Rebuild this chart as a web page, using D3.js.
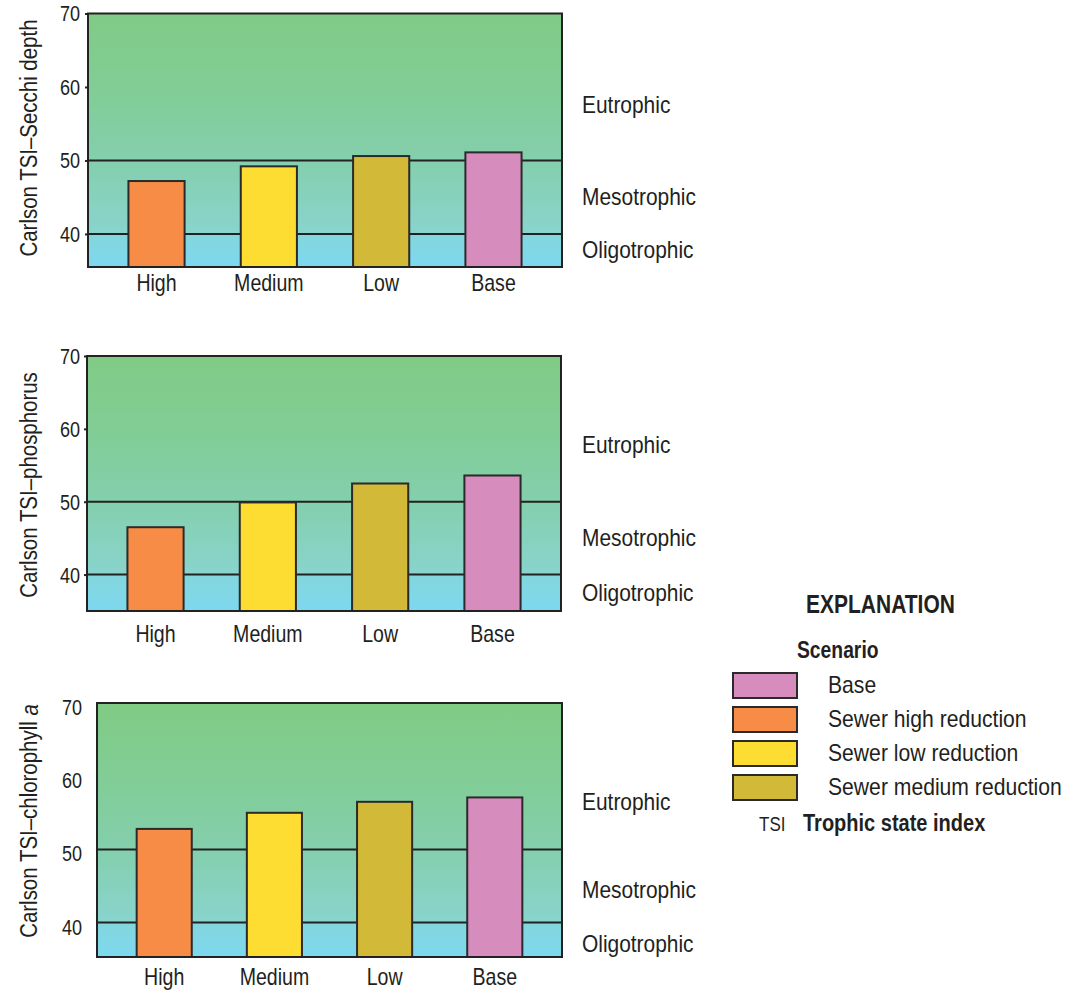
<!DOCTYPE html>
<html><head><meta charset="utf-8">
<script src="https://cdn.jsdelivr.net/npm/d3@7"></script>
<style>
body{margin:0;background:#fff;}
svg{display:block;}
text{font-family:"Liberation Sans",Arial,sans-serif;fill:#231f20;}
</style></head><body>
<svg id="chart" width="1072" height="990"></svg>
<script>
// ---- data ----
const categories = ["High", "Medium", "Low", "Base"];
const secchiValues = [47.2, 49.2, 50.6, 51.1];
const phosphorusValues = [46.5, 49.9, 52.5, 53.6];
const chlorophyllValues = [52.8, 55.0, 56.5, 57.1];
const yTicks = [40, 50, 60, 70];
const boundaries = [40, 50];
const zoneLabels = ["Eutrophic", "Mesotrophic", "Oligotrophic"];
const barColors = ["#f68c45", "#fedd33", "#d2b937", "#d68cbc"];
const legendLabels = ["Base", "Sewer high reduction", "Sewer low reduction", "Sewer medium reduction"];
const legendColors = ["#d68cbc", "#f68c45", "#fedd33", "#d2b937"];

// ---- layout ----
const panels = [
  {title: "Carlson TSI\u2013Secchi depth", italic: null, values: secchiValues,
   left: 88, right: 562, top: 13.5, bottom: 267, yMin: 35.5, labelRight: 80, tick: 3, xlab: 24, eutro: 55, titleY: 138, extra: 0},
  {title: "Carlson TSI\u2013phosphorus", italic: null, values: phosphorusValues,
   left: 87, right: 561, top: 356, bottom: 611, yMin: 35, labelRight: 80, tick: 3, xlab: 31, eutro: 57, titleY: 485, extra: 0},
  {title: "Carlson TSI\u2013chlorophyll ", italic: "a", values: chlorophyllValues,
   left: 97, right: 562, top: 703, bottom: 957, yMin: 35.3, labelRight: 82, tick: 0, xlab: 28, eutro: 47, titleY: 821, extra: 4}
];

const svg = d3.select("#chart");
const defs = svg.append("defs");

// condensed text helper: horizontal squeeze of a larger font
function ctext(parent, x, y, str, size, sx, opts = {}) {
  const t = parent.append("text")
    .attr("transform", `translate(${x},${y})${opts.rotate ? " rotate(" + opts.rotate + ")" : ""} scale(${sx},1)`)
    .attr("font-size", size).text(str);
  if (opts.bold) t.attr("font-weight", "bold");
  if (opts.anchor) t.attr("text-anchor", opts.anchor);
  if (opts.central) t.attr("dominant-baseline", "central");
  return t;
}

panels.forEach((p, pi) => {
  const g = svg.append("g");
  const y = d3.scaleLinear().domain([p.yMin, 70]).range([p.bottom, p.top]);
  const x = d3.scaleBand().domain(categories).range([p.left, p.right]).paddingInner(0.5).paddingOuter(0.36);

  const gid = "bg" + pi;
  const grad = defs.append("linearGradient").attr("id", gid).attr("gradientUnits", "userSpaceOnUse")
    .attr("x1", 0).attr("x2", 0).attr("y1", p.top).attr("y2", p.bottom);
  const H = p.bottom - p.top;
  [[p.top, "#80cb85"], [y(60), "#81cd95"], [y(50), "#84cfad"], [y(40) - 1, "#89d4cd"], [y(40) + 1, "#83d6dd"], [p.bottom, "#7dd8ef"]]
    .forEach(([yy, c]) => grad.append("stop").attr("offset", (yy - p.top) / H).attr("stop-color", c));

  g.append("rect").attr("x", p.left).attr("y", p.top).attr("width", p.right - p.left).attr("height", H)
    .attr("fill", `url(#${gid})`);

  g.selectAll("line.bound").data(boundaries).join("line").attr("class", "bound")
    .attr("x1", p.left).attr("x2", p.right).attr("y1", d => y(d)).attr("y2", d => y(d))
    .attr("stroke", "#222").attr("stroke-width", 2);

  g.selectAll("rect.bar").data(p.values).join("rect").attr("class", "bar")
    .attr("x", (d, i) => x(categories[i])).attr("width", x.bandwidth())
    .attr("y", d => y(d)).attr("height", d => p.bottom - y(d))
    .attr("fill", (d, i) => barColors[i]).attr("stroke", "#2a2a2a").attr("stroke-width", 2);

  g.append("rect").attr("x", p.left).attr("y", p.top).attr("width", p.right - p.left).attr("height", H)
    .attr("fill", "none").attr("stroke", "#222").attr("stroke-width", 2);

  // y axis
  const tsx = 0.82;
  const ya = g.append("g").attr("transform", `translate(${p.left},0)`)
    .call(d3.axisLeft(y).tickValues(yTicks).tickSize(p.tick).tickPadding(p.left - p.labelRight - p.tick));
  ya.select(".domain").remove();
  ya.selectAll("line").attr("stroke", "#222").attr("stroke-width", 2);
  ya.selectAll("text").attr("font-size", 22).attr("fill", "#231f20")
    .attr("dy", p.extra ? `${0.34 + p.extra / 22}em` : "0.34em")
    .attr("x", function () { return +d3.select(this).attr("x") / tsx; })
    .attr("transform", `scale(${tsx},1)`)
    .style("font-family", '"Liberation Sans", Arial, sans-serif');

  // x axis
  const xa = g.append("g").attr("transform", `translate(0,${p.bottom})`)
    .call(d3.axisBottom(x).tickSize(0).tickPadding(0));
  xa.select(".domain").remove();
  xa.selectAll("text").attr("dy", null).attr("y", p.xlab).attr("font-size", 23)
    .attr("transform", "scale(0.85,1)")
    .attr("fill", "#231f20").style("font-family", '"Liberation Sans", Arial, sans-serif');

  // zone labels
  const zy = [y(50) - p.eutro, (y(50) + y(40)) / 2 + p.extra, (y(40) + p.bottom) / 2 + p.extra];
  zoneLabels.forEach((z, i) => ctext(g, 582, zy[i], z, 23, 0.91, {central: true}));

  // y title
  const t = ctext(g, 29, p.titleY, p.title, 23.5, 0.87, {rotate: -90, anchor: "middle", central: true});
  if (p.italic) t.append("tspan").attr("font-style", "italic").text(p.italic);
});

// ---- legend ----
const lg = svg.append("g");
ctext(lg, 806, 613, "EXPLANATION", 25, 0.84, {bold: true});
ctext(lg, 797, 658, "Scenario", 23, 0.84, {bold: true});
const legY = d3.scalePoint().domain(legendLabels).range([673, 775]);
lg.selectAll("rect.sw").data(legendLabels).join("rect").attr("class", "sw")
  .attr("x", 733).attr("y", d => legY(d)).attr("width", 64).attr("height", 25)
  .attr("fill", (d, i) => legendColors[i]).attr("stroke", "#2a2a2a").attr("stroke-width", 2);
legendLabels.forEach(l => ctext(lg, 828, legY(l) + 12.5, l, 23, 0.92, {central: true}));
ctext(lg, 759, 831, "TSI", 20, 0.85);
ctext(lg, 803, 831, "Trophic state index", 23, 0.87, {bold: true});
</script>
</body></html>
